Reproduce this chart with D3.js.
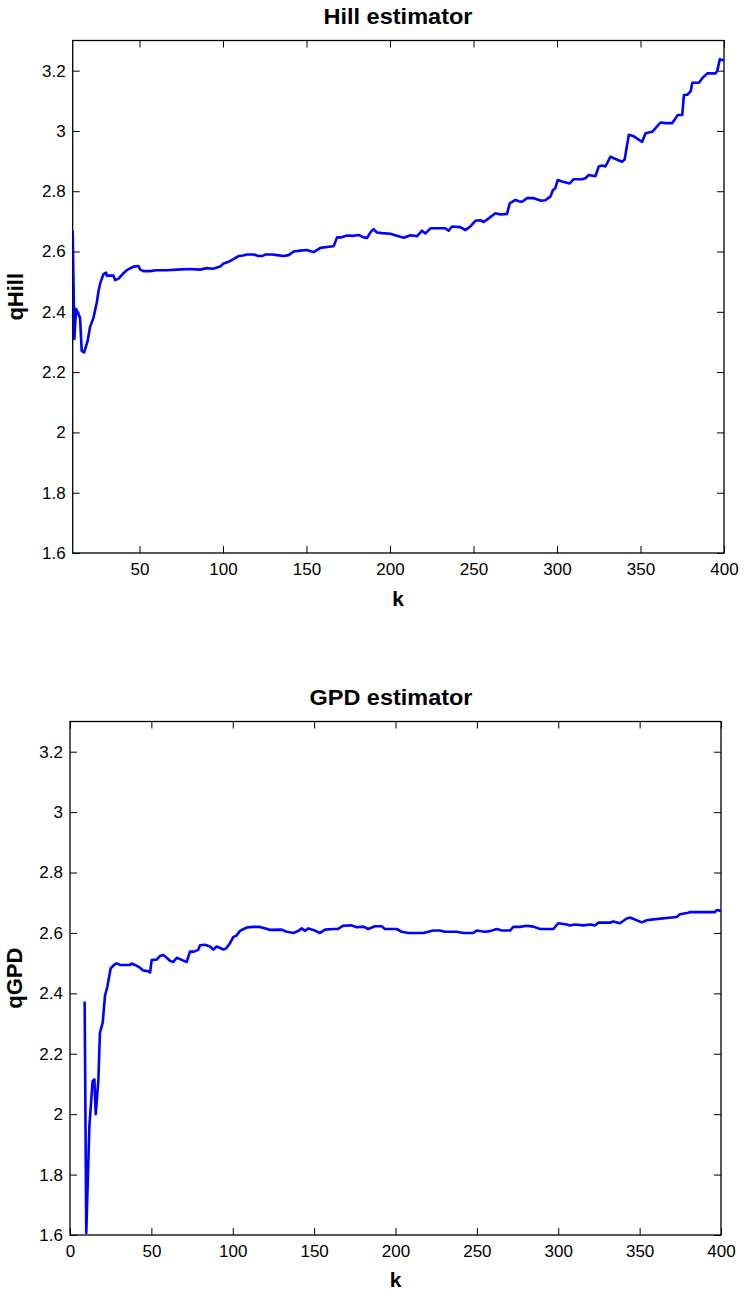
<!DOCTYPE html>
<html>
<head>
<meta charset="utf-8">
<script src="https://cdn.jsdelivr.net/npm/d3@7"></script>
<style>
  html, body { margin: 0; padding: 0; background: #fff; }
  svg { display: block; }
  text { font-family: "Liberation Sans", Arial, Helvetica, sans-serif; fill: #000; }
</style>
</head>
<body>
<svg id="chart" width="744" height="1292"></svg>
<script>
// Hill tail-quantile estimate against number of order statistics k
const hillK = [10, 11, 12, 14.4, 15.4, 16.8, 18.8, 20.4, 22.4, 24.4, 25.5, 26.5, 28.4, 30, 30.4, 34.4, 35.4, 37.5,
  40.4, 42.4, 46.4, 49.4, 50.4, 52.4, 56.4, 60, 66.3, 72.3, 80.3, 86.3, 90.3, 94, 98.3, 100.3, 103, 106.3, 109.3,
  112, 114.3, 118.3, 121.3, 123.5, 125.3, 129.3, 132.3, 136.3, 139.3, 142.3, 146.3, 150.3, 154.3, 158.3, 162.3,
  166.3, 168.3, 171, 174.3, 177.5, 181.2, 184.2, 186.2, 188.6, 190.2, 192.2, 195.2, 200.2, 204.2, 208.2, 212.2,
  216.2, 219.2, 221.2, 224.2, 233.1, 235.1, 237.1, 242.1, 245.1, 248.1, 251.1, 254.1, 256.1, 259.1, 263.1, 266.1,
  270.1, 271.7, 275.1, 277.1, 279.1, 282.1, 286.1, 290.1, 293, 296, 297.6, 299, 300.4, 303, 307.6, 310, 315, 317,
  319, 323, 325, 327, 329, 332, 335, 339, 340.5, 343, 346, 351, 353, 357, 359, 362, 365, 369, 371, 372.3, 375,
  376, 378, 380, 381, 385, 387, 390, 395, 396, 397.5, 400];
const hillQ = [2.67, 2.31, 2.41, 2.38, 2.27, 2.265, 2.30, 2.35, 2.38, 2.43, 2.47, 2.495, 2.525, 2.53, 2.52, 2.52,
  2.505, 2.51, 2.528, 2.538, 2.55, 2.552, 2.54, 2.535, 2.535, 2.538, 2.538, 2.54, 2.542, 2.54, 2.545, 2.543, 2.55,
  2.56, 2.565, 2.575, 2.585, 2.587, 2.59, 2.59, 2.585, 2.585, 2.59, 2.59, 2.588, 2.585, 2.588, 2.6, 2.603, 2.605,
  2.598, 2.612, 2.615, 2.618, 2.647, 2.647, 2.653, 2.652, 2.655, 2.647, 2.645, 2.666, 2.674, 2.663, 2.661, 2.659,
  2.652, 2.646, 2.654, 2.651, 2.669, 2.66, 2.677, 2.677, 2.669, 2.683, 2.681, 2.671, 2.683, 2.702, 2.704, 2.698,
  2.71, 2.727, 2.723, 2.725, 2.76, 2.771, 2.767, 2.765, 2.777, 2.777, 2.769, 2.77, 2.782, 2.804, 2.81, 2.837, 2.832,
  2.826, 2.84, 2.84, 2.843, 2.854, 2.85, 2.882, 2.885, 2.882, 2.915, 2.907, 2.898, 2.905, 2.987, 2.982, 2.964,
  2.992, 2.997, 3.009, 3.028, 3.026, 3.026, 3.042, 3.053, 3.053, 3.119, 3.12, 3.131, 3.16, 3.16, 3.175, 3.191,
  3.191, 3.2, 3.238, 3.234];

// GPD tail-quantile estimate against k
const gpdK = [9, 10, 11.9, 13.9, 15, 15.8, 17.4, 18.4, 20.1, 21.5, 22.9, 25, 27.6, 28.9, 30.7, 36.9, 37.9, 39.9,
  43, 45, 48.1, 49.2, 50.2, 53.3, 55.3, 57.3, 59.4, 61.4, 63.5, 65.6, 68.6, 71.7, 73.7, 76.2, 78.8, 79.9, 82.9, 86,
  88.1, 90.1, 92, 94.2, 96, 98.3, 100.3, 102.4, 104.5, 108.6, 112.6, 116.7, 120.8, 122.9, 130.1, 132.7, 137.2,
  140.3, 142.4, 144.5, 146.5, 149.5, 153.6, 156.7, 161.8, 164.5, 167.9, 173.1, 176.1, 180.2, 183.3, 187.4, 191.5,
  193.5, 200.7, 203.8, 207.9, 217.1, 223.2, 227.3, 230.4, 237.5, 241.7, 247.8, 249.9, 255, 258, 262.2, 265.3,
  270.4, 272.4, 276.5, 280.6, 284.7, 288.8, 297, 300, 305.2, 307.2, 310.3, 315.4, 319.5, 322.6, 324.6, 331.8,
  333.8, 337.9, 342.1, 344.1, 348.2, 351.3, 354.4, 358.4, 372.8, 374.8, 379.9, 381, 396.3, 397.4, 400];
const gpdQ = [2.373, 1.607, 1.959, 2.11, 2.115, 2.0, 2.11, 2.269, 2.303, 2.393, 2.421, 2.483, 2.497, 2.499, 2.494,
  2.494, 2.499, 2.494, 2.485, 2.476, 2.473, 2.469, 2.51, 2.512, 2.524, 2.527, 2.518, 2.508, 2.504, 2.518, 2.511,
  2.504, 2.538, 2.538, 2.544, 2.559, 2.561, 2.555, 2.545, 2.555, 2.551, 2.545, 2.549, 2.566, 2.586, 2.592, 2.607,
  2.618, 2.62, 2.62, 2.614, 2.61, 2.611, 2.605, 2.6, 2.607, 2.615, 2.607, 2.615, 2.61, 2.6, 2.611, 2.613, 2.613,
  2.624, 2.625, 2.619, 2.621, 2.613, 2.622, 2.622, 2.613, 2.613, 2.604, 2.6, 2.6, 2.608, 2.608, 2.604, 2.604, 2.6,
  2.6, 2.608, 2.604, 2.606, 2.613, 2.608, 2.608, 2.62, 2.62, 2.624, 2.621, 2.613, 2.613, 2.632, 2.628, 2.625,
  2.628, 2.625, 2.628, 2.625, 2.634, 2.634, 2.638, 2.632, 2.648, 2.651, 2.642, 2.635, 2.642, 2.645, 2.653, 2.662,
  2.667, 2.669, 2.669, 2.676, 2.673];

const yTicks = [1.6, 1.8, 2, 2.2, 2.4, 2.6, 2.8, 3, 3.2];
const hillXTicks = [50, 100, 150, 200, 250, 300, 350, 400];
const gpdXTicks = [0, 50, 100, 150, 200, 250, 300, 350, 400];

const svg = d3.select("#chart");
const fmt = v => String(+v.toFixed(1));

function panel(cfg) {
  const { box, xDomain, xTicks, ks, qs, title, ylabel } = cfg;
  const x = d3.scaleLinear().domain(xDomain).range([box.left, box.right]);
  const y = d3.scaleLinear().domain([1.6, 3.3]).range([box.bottom, box.top]);
  const g = svg.append("g");

  const tick = 7;
  const styleAxis = sel => {
    sel.select(".domain").remove();
    sel.selectAll(".tick line").attr("stroke", "#000").attr("stroke-width", 1);
    sel.selectAll(".tick text").attr("font-size", 17).attr("fill", "#000")
      .attr("font-family", "'Liberation Sans', Arial, sans-serif");
  };

  g.append("g").attr("transform", `translate(0,${box.bottom})`)
    .call(d3.axisBottom(x).tickValues(xTicks).tickFormat(d3.format("d")).tickSizeInner(-tick).tickSizeOuter(0).tickPadding(cfg.xPad))
    .call(styleAxis);
  g.append("g").attr("transform", `translate(0,${box.top})`)
    .call(d3.axisTop(x).tickValues(xTicks).tickFormat("").tickSizeInner(-tick).tickSizeOuter(0))
    .call(styleAxis);
  g.append("g").attr("transform", `translate(${box.left},0)`)
    .call(d3.axisLeft(y).tickValues(yTicks).tickFormat(fmt).tickSizeInner(-tick).tickSizeOuter(0).tickPadding(7))
    .call(styleAxis);
  g.append("g").attr("transform", `translate(${box.right},0)`)
    .call(d3.axisRight(y).tickValues(yTicks).tickFormat("").tickSizeInner(-tick).tickSizeOuter(0))
    .call(styleAxis);

  // plot frame
  g.append("rect")
    .attr("x", box.left).attr("y", box.top)
    .attr("width", box.right - box.left).attr("height", box.bottom - box.top)
    .attr("fill", "none").attr("stroke", "#000").attr("stroke-width", 1.3);

  const pts = ks.map((k, i) => [k, qs[i]]);
  const clipId = "clip-" + cfg.id;
  g.append("clipPath").attr("id", clipId).append("rect")
    .attr("x", box.left).attr("y", box.top - 3)
    .attr("width", box.right - box.left + 2).attr("height", box.bottom - box.top + 6);
  g.append("path")
    .datum(pts)
    .attr("clip-path", `url(#${clipId})`)
    .attr("fill", "none")
    .attr("stroke", "#0000ff")
    .attr("stroke-width", 2.6)
    .attr("stroke-linejoin", "round")
    .attr("d", d3.line().x(d => x(d[0])).y(d => y(d[1])));

  g.append("text")
    .attr("x", cfg.titleX).attr("y", cfg.titleY)
    .attr("text-anchor", "middle")
    .attr("font-size", 22).attr("font-weight", "bold")
    .attr("textLength", cfg.titleLen).attr("lengthAdjust", "spacingAndGlyphs")
    .text(title);

  g.append("text")
    .attr("x", cfg.kX).attr("y", cfg.kY)
    .attr("text-anchor", "middle")
    .attr("font-size", 21).attr("font-weight", "bold")
    .text("k");

  g.append("text")
    .attr("transform", `translate(${cfg.yLabX},${(box.top + box.bottom) / 2}) rotate(-90)`)
    .attr("text-anchor", "middle")
    .attr("font-size", 22).attr("font-weight", "bold")
    .text(ylabel);
}

panel({
  id: "hill",
  box: { left: 72.7, right: 724, top: 40.5, bottom: 553 },
  xDomain: [10, 400], xTicks: hillXTicks, xPad: 10,
  ks: hillK, qs: hillQ,
  title: "Hill estimator", titleX: 398, titleY: 24, titleLen: 149,
  kX: 398, kY: 606,
  ylabel: "qHill", yLabX: 23
});

panel({
  id: "gpd",
  box: { left: 70, right: 721, top: 721.5, bottom: 1235 },
  xDomain: [0, 400], xTicks: gpdXTicks, xPad: 10,
  ks: gpdK, qs: gpdQ,
  title: "GPD estimator", titleX: 391, titleY: 705, titleLen: 163,
  kX: 395.5, kY: 1287,
  ylabel: "qGPD", yLabX: 22
});
</script>
</body>
</html>
